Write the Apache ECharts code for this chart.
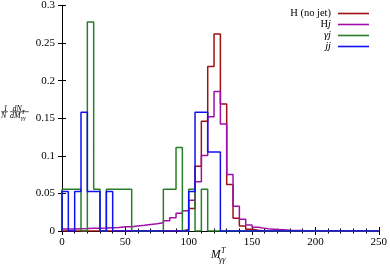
<!DOCTYPE html>
<html><head><meta charset="utf-8">
<script src="https://cdn.jsdelivr.net/npm/echarts@6/dist/echarts.min.js"></script>
<style>html,body{margin:0;padding:0;background:#fff}#c{width:390px;height:266px}</style>
</head><body><div id="c"></div>
<script>
// bin edges: 0,5,10,...,250 (bin i covers [5i, 5i+5))
const binWidth = 5;
const xTicks = ['0','50','100','150','200','250'];
const yTicks = ['0','0.05','0.1','0.15','0.2','0.25','0.3'];
const seriesNames = ['H (no jet)', 'Hj', 'γj', 'jj'];
const hNoJet = [0,0,0,0,0,0,0,0,0,0, 0,0,0,0,0,0,0,0,0,0.002, 0.030,0.086,0.146,0.219,0.262,0.169,0.062,0.017,0.0066,0.0023, 0.001,0,0,0,0,0,0,0,0,0, 0,0,0,0,0,0,0,0,0,0];
const hJet = [0.0027,0.0028,0.003,0.0032,0.0035,0.0037,0.004,0.0044,0.0048,0.0055, 0.0058,0.0068,0.0076,0.0088,0.0095,0.011,0.0137,0.0177,0.0235,0.027, 0.041,0.0655,0.1005,0.152,0.1855,0.1425,0.0753,0.033,0.0155,0.008, 0.005,0.0035,0.0025,0.002,0.0015,0.001,0.0007,0.0005,0.0004,0.0003, 0,0,0,0,0,0,0,0,0,0];
const gammaJet = [0.0555,0.0555,0.0555,0,0.278,0.0555,0,0.0555,0.0555,0.0555, 0.0555,0,0,0,0,0,0.0555,0.0555,0.111,0, 0.0555,0,0.0555,0,0,0,0,0,0,0, 0,0,0,0,0,0,0,0,0,0, 0,0,0,0,0,0,0,0,0,0];
const jetJet = [0.0526,0,0.0526,0.158,0.0526,0.0526,0,0.0526,0,0, 0,0,0,0,0,0,0,0,0,0, 0.0526,0.158,0.158,0.105,0.105,0,0,0,0,0, 0,0,0,0,0,0,0,0,0,0, 0,0,0,0,0,0,0,0,0,0];
const colors = ['#a01010', '#a010a8', '#2a7d2a', '#1010f0'];

function steps(vals){
  const d = [[0,0]];
  vals.forEach((v,i)=>d.push([i*binWidth, v]));
  d.push([vals.length*binWidth, 0]);
  return d;
}
const allVals = [hNoJet, hJet, gammaJet, jetJet];
const FONT = '"Liberation Serif", "DejaVu Serif", serif';
const chart = echarts.init(document.getElementById('c'), null, {renderer:'canvas'});
const legendRich = {
  r:{fontFamily:FONT,fontSize:10.5,color:'#000',lineHeight:10.5},
  i:{fontFamily:FONT,fontSize:10.5,color:'#000',fontStyle:'italic',lineHeight:10.5}
};
const legendFmt = {
  'H (no jet)':'{r|H (no jet)}',
  'Hj':'{r|H}{i|j}',
  'γj':'{i|γj}',
  'jj':'{i|jj}'
};
const axisCommonX = {
  type:'value', min:0, max:250, interval:50,
  axisLine:{show:true, lineStyle:{color:'#000', width:1}},
  axisTick:{show:true, inside:true, length:4, lineStyle:{color:'#000'}},
  minorTick:{show:true, splitNumber:5, length:2.5, lineStyle:{color:'#000'}},
  splitLine:{show:false}
};
const axisCommonY = {
  type:'value', min:0, max:0.3, interval:0.05,
  axisLine:{show:true, lineStyle:{color:'#000', width:1}},
  axisTick:{show:true, inside:true, length:4, lineStyle:{color:'#000'}},
  splitLine:{show:false}
};
chart.setOption({
  animation:false,
  backgroundColor:'#fff',
  grid:{left:62, right:8, top:5, bottom:35},
  legend:{
    orient:'vertical', right:21, top:8, align:'right', padding:0,
    itemWidth:31, itemHeight:1.6, itemGap:0, icon:'rect',
    data:seriesNames,
    formatter:n=>legendFmt[n],
    textStyle:{rich:legendRich, lineHeight:10.5, padding:[0,2,0,0]}
  },
  xAxis:[
    Object.assign({}, axisCommonX, {position:'bottom',
      axisLabel:{show:true, margin:6, fontFamily:FONT, fontSize:11, color:'#000',
        formatter:(v)=>{const k=Math.round(v/50); return xTicks[k]!==undefined && Math.abs(v-k*50)<1e-6 ? xTicks[k] : '';}}}),
    Object.assign({}, axisCommonX, {position:'top', axisLabel:{show:false}})
  ],
  yAxis:[
    Object.assign({}, axisCommonY, {position:'left',
      axisLabel:{show:true, margin:7, fontFamily:FONT, fontSize:11, color:'#000',
        formatter:(v)=>{const k=Math.round(v/0.05); return yTicks[k];}}}),
    Object.assign({}, axisCommonY, {position:'right', axisLabel:{show:false}})
  ],
  series: seriesNames.map((n,k)=>({
    name:n, type:'line', step:'end', xAxisIndex:0, yAxisIndex:0,
    data:steps(allVals[k]), symbol:'none', showSymbol:false,
    lineStyle:{color:colors[k], width:1.5}, itemStyle:{color:colors[k]},
    z:3+k
  })),
  graphic:[
    // y-axis title: (1/N) dN/dM^T_{γγ}
    {type:'text', left:3.5, top:104.5, style:{text:'1', font:'italic 8px '+FONT, fill:'#000'}},
    {type:'line', shape:{x1:1, y1:111.7, x2:8, y2:111.7}, style:{stroke:'#000', lineWidth:0.6}},
    {type:'text', left:1, top:111.5, style:{text:'N', font:'italic 8px '+FONT, fill:'#000'}},
    {type:'text', left:12.5, top:104.5, style:{text:'dN', font:'italic 8px '+FONT, fill:'#000'}},
    {type:'line', shape:{x1:10, y1:111.7, x2:29, y2:111.7}, style:{stroke:'#000', lineWidth:0.6}},
    {type:'text', left:10, top:111.5, style:{text:'dM', font:'italic 8px '+FONT, fill:'#000'}},
    {type:'text', left:21.5, top:109, style:{text:'T', font:'italic 6px '+FONT, fill:'#000'}},
    {type:'text', left:21, top:115, style:{text:'γγ', font:'italic 6px '+FONT, fill:'#000'}},
    // x-axis title: M^T_{γγ}
    {type:'text', left:211, top:249, style:{text:'M', font:'italic 11.5px '+FONT, fill:'#000'}},
    {type:'text', left:221, top:247, style:{text:'T', font:'italic 8px '+FONT, fill:'#000'}},
    {type:'text', left:219, top:256, style:{text:'γγ', font:'italic 8px '+FONT, fill:'#000'}}
  ]
});
</script></body></html>
